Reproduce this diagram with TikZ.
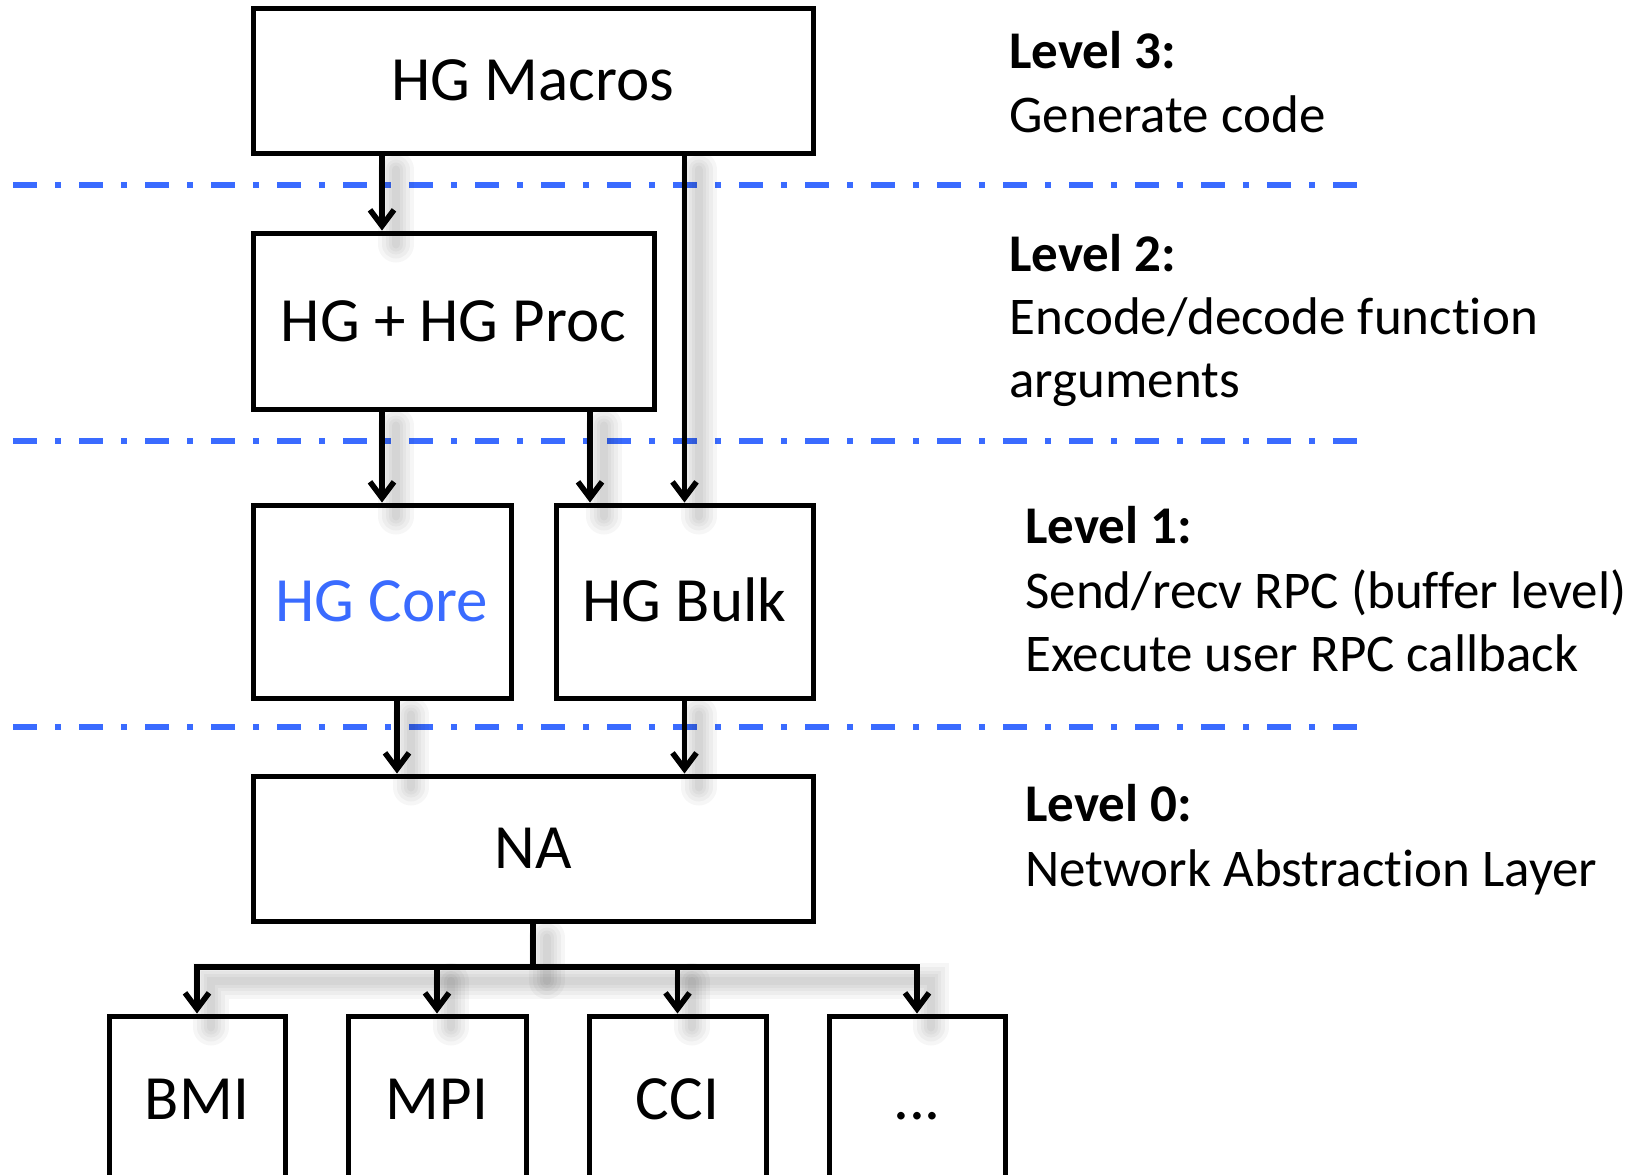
\documentclass[tikz,border=0pt]{standalone}
\usepackage{fontspec}
\setmainfont{Carlito}[Ligatures=NoCommon]
\usetikzlibrary{arrows.meta}
\definecolor{lvlblue}{HTML}{3A6BFF}
\begin{document}
\begin{tikzpicture}[x=0.5pt,y=-0.5pt,
  >={Straight Barb[length=8pt,width=12pt]},
  sl/.style={preaction={draw=black, -, line cap=round, opacity=0.035, line width=#1, transform canvas={shift={(7pt,-7pt)}}}},
  shad/.style={sl=18pt, sl=14pt, sl=10pt, sl=7pt, sl=4pt},
  box/.style={draw=black, line width=2.5pt, inner sep=0pt, text height=20.3pt, text depth=0pt,
    font=\fontsize{31.5}{38}\selectfont},
  arr/.style={shad, draw=black, line width=2.8pt, ->},
  wire/.style={shad, draw=black, line width=2.8pt},
  sep/.style={draw=lvlblue, line width=3pt, dash pattern=on 12pt off 9pt on 3pt off 9pt},
  lvl/.style={anchor=base west, inner sep=0pt, font=\fontsize{26.5}{32}\selectfont},
  lvlb/.style={lvl, font=\fontsize{26.5}{32}\selectfont\bfseries},
]
\useasboundingbox (0,0) rectangle (1645,1174);

% level separators
\coordinate (s3l) at (13,185);  \coordinate (s3r) at (1359,185);
\coordinate (s2l) at (13,441);  \coordinate (s2r) at (1359,441);
\coordinate (s1l) at (13,727);  \coordinate (s1r) at (1359,727);
\draw[sep] (s3l) -- (s3r);
\draw[sep] (s2l) -- (s2r);
\draw[sep] (s1l) -- (s1r);

% boxes
\node[box, minimum width=280pt, minimum height=72.5pt] (macros) at (533,80.5) {HG Macros};
\node[box, minimum width=200.5pt, minimum height=88pt] (proc) at (453.5,321) {HG + HG Proc};
\node[box, minimum width=129pt, minimum height=96.5pt, text=lvlblue] (core) at (382,601.5) {HG Core};
\node[box, minimum width=128.5pt, minimum height=96.5pt] (bulk) at (684.5,601.5) {HG Bulk};
\node[box, minimum width=280pt, minimum height=72.5pt] (na) at (533,848.5) {NA};
\node[box, minimum width=88pt, minimum height=83pt] (bmi) at (197,1099) {BMI};
\node[box, minimum width=89pt, minimum height=83pt] (mpi) at (437,1099) {MPI};
\node[box, minimum width=88.5pt, minimum height=83pt] (cci) at (677.5,1099) {CCI};
\node[box, minimum width=88pt, minimum height=83pt] (dots) at (917,1099) {...};

% connectors
\coordinate (xpb) at (590,0);
\coordinate (xcn) at (397,0);
\draw[arr] (macros.south -| core) -- (proc.north -| core);
\draw[arr] (macros.south -| bulk) -- (bulk.north);
\draw[arr] (proc.south -| core) -- (core.north);
\draw[arr] (proc.south -| xpb) -- (bulk.north -| xpb);
\draw[arr] (core.south -| xcn) -- (na.north -| xcn);
\draw[arr] (bulk.south) -- (na.north -| bulk);

\coordinate (bus) at (533,967);
\draw[wire] (na.south) -- (bus);
\draw[arr, <->] (bmi.north) -- (bmi |- bus) -- (dots |- bus) -- (dots.north);
\draw[arr] (mpi |- bus) -- (mpi.north);
\draw[arr] (cci |- bus) -- (cci.north);

% level descriptions
\node[lvlb] (l3a) at (1009,68) {Level 3:};
\node[lvl]  (l3b) at (1009,132) {Generate code};
\node[lvlb] (l2a) at (1009,271) {Level 2:};
\node[lvl]  (l2b) at (1009,334) {Encode/decode function};
\node[lvl]  (l2c) at (1009,397) {arguments};
\node[lvlb] (l1a) at (1025,543) {Level 1:};
\node[lvl]  (l1b) at (1025,608) {Send/recv RPC (buffer level)};
\node[lvl]  (l1c) at (1025,671) {Execute user RPC callback};
\node[lvlb] (l0a) at (1025,821) {Level 0:};
\node[lvl]  (l0b) at (1025,886) {Network Abstraction Layer};
\end{tikzpicture}
\end{document}
